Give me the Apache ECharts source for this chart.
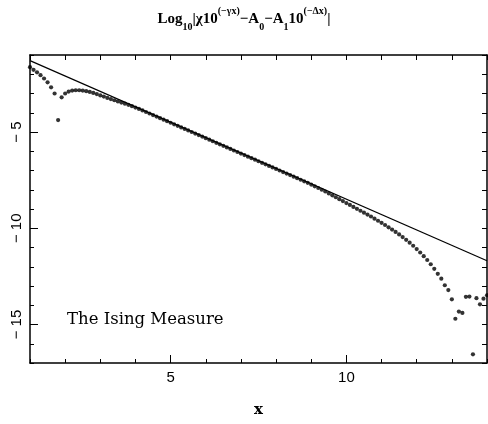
<!DOCTYPE html>
<html>
<head>
<meta charset="utf-8">
<script src="https://cdn.jsdelivr.net/npm/echarts@6/dist/echarts.min.js"></script>
<style>
html,body{margin:0;padding:0;background:#fff;}
#chart{width:488px;height:424px;}
</style>
</head>
<body>
<div id="chart"></div>
<script>
// ---- data ----
const dotX = [
  1.0,1.1,1.2,1.3,1.4,1.5,1.6,1.7,1.8,1.9,
  2.0,2.1,2.2,2.3,2.4,2.5,2.6,2.7,2.8,2.9,
  3.0,3.1,3.2,3.3,3.4,3.5,3.6,3.7,3.8,3.9,
  4.0,4.1,4.2,4.3,4.4,4.5,4.6,4.7,4.8,4.9,
  5.0,5.1,5.2,5.3,5.4,5.5,5.6,5.7,5.8,5.9,
  6.0,6.1,6.2,6.3,6.4,6.5,6.6,6.7,6.8,6.9,
  7.0,7.1,7.2,7.3,7.4,7.5,7.6,7.7,7.8,7.9,
  8.0,8.1,8.2,8.3,8.4,8.5,8.6,8.7,8.8,8.9,
  9.0,9.1,9.2,9.3,9.4,9.5,9.6,9.7,9.8,9.9,
  10.0,10.1,10.2,10.3,10.4,10.5,10.6,10.7,10.8,10.9,
  11.0,11.1,11.2,11.3,11.4,11.5,11.6,11.7,11.8,11.9,
  12.0,12.1,12.2,12.3,12.4,12.5,12.6,12.7,12.8,12.9,
  13.0,13.1,13.2,13.3,13.4,13.5,13.6,13.7,13.8,13.9,
  14.0
];
const dotY = [
  -1.63,-1.77,-1.90,-2.05,-2.22,-2.42,-2.68,-3.00,-4.38,-3.20,
  -3.00,-2.90,-2.85,-2.83,-2.83,-2.85,-2.88,-2.92,-2.97,-3.03,
  -3.10,-3.16,-3.23,-3.29,-3.35,-3.41,-3.47,-3.53,-3.59,-3.66,
  -3.73,-3.80,-3.88,-3.96,-4.04,-4.12,-4.20,-4.28,-4.36,-4.44,
  -4.52,-4.60,-4.68,-4.76,-4.84,-4.92,-5.00,-5.08,-5.16,-5.24,
  -5.32,-5.40,-5.48,-5.56,-5.64,-5.72,-5.80,-5.88,-5.96,-6.04,
  -6.12,-6.20,-6.28,-6.36,-6.44,-6.52,-6.60,-6.68,-6.76,-6.84,
  -6.92,-7.00,-7.08,-7.16,-7.24,-7.32,-7.40,-7.48,-7.56,-7.64,
  -7.73,-7.82,-7.91,-8.00,-8.09,-8.19,-8.29,-8.39,-8.49,-8.59,
  -8.69,-8.79,-8.89,-8.99,-9.09,-9.19,-9.29,-9.39,-9.50,-9.61,
  -9.72,-9.83,-9.95,-10.07,-10.19,-10.32,-10.46,-10.60,-10.75,-10.91,
  -11.08,-11.26,-11.45,-11.65,-11.87,-12.11,-12.37,-12.62,-12.96,-13.21,
  -13.69,-14.70,-14.33,-14.40,-13.56,-13.55,-16.55,-13.63,-13.95,-13.66,
  -13.48
];
const fitX = [1, 14];
const fitY = [-1.29, -11.69];
const xMajorTicks = [5, 10];
const yMajorTicks = [-15, -10, -5];
const annotation = 'The Ising Measure';

// ---- chart ----
const chart = echarts.init(document.getElementById('chart'), null, {renderer: 'canvas'});
const black = '#000';
const serif = '"DejaVu Serif", "Liberation Serif", serif';
const tserif = '"Liberation Serif", "DejaVu Serif", serif';
const sans = '"Liberation Sans", Arial, sans-serif';

const option = {
  animation: false,
  backgroundColor: '#fff',
  title: {
    text: '{m|Log}{sub|10}{m||χ10}{sup|(−γx)}{m|−A}{sub|0}{m|−A}{sub|1}{m|10}{sup|(−Δx)}{m||}',
    left: 'center',
    top: 1,
    textStyle: {
      rich: {
        m: {fontFamily: tserif, fontSize: 15, fontWeight: 'bold', color: black, lineHeight: 26, verticalAlign: 'middle'},
        sub: {fontFamily: tserif, fontSize: 10, fontWeight: 'bold', color: black, lineHeight: 10, verticalAlign: 'bottom'},
        sup: {fontFamily: tserif, fontSize: 10, fontWeight: 'bold', color: black, lineHeight: 10, verticalAlign: 'top'}
      }
    }
  },
  grid: {left: 30, right: 1, top: 55, bottom: 61, containLabel: false},
  xAxis: [
    {
      type: 'value', position: 'bottom', min: 1, max: 14, interval: 1,
      axisLine: {show: true, onZero: false, lineStyle: {color: black, width: 1.5}},
      axisTick: {show: true, inside: true, length: 4, lineStyle: {color: black, width: 1}},
      axisLabel: {customValues: xMajorTicks, color: black, fontSize: 15, fontFamily: sans, margin: 7},
      splitLine: {show: false},
      name: 'x', nameLocation: 'middle', nameGap: 40,
      nameTextStyle: {fontFamily: serif, fontSize: 15, fontWeight: 'bold', color: black}
    },
    {
      type: 'value', position: 'bottom', min: 1, max: 14,
      axisLine: {show: false, onZero: false},
      axisTick: {show: true, inside: true, length: 8, customValues: xMajorTicks, lineStyle: {color: black, width: 1}},
      axisLabel: {show: false},
      splitLine: {show: false}
    },
    {
      type: 'value', position: 'top', min: 1, max: 14, interval: 1,
      axisLine: {show: true, onZero: false, lineStyle: {color: black, width: 1.5}},
      axisTick: {show: true, inside: true, length: 5, lineStyle: {color: black, width: 1}},
      axisLabel: {show: false},
      splitLine: {show: false}
    }
  ],
  yAxis: [
    {
      type: 'value', position: 'left', min: -17, max: -1, interval: 1,
      axisLine: {show: true, onZero: false, lineStyle: {color: black, width: 1.5}},
      axisTick: {show: true, inside: true, length: 4, lineStyle: {color: black, width: 1}},
      axisLabel: {customValues: yMajorTicks, rotate: 90, color: black, fontSize: 15, fontFamily: sans, margin: 6,
        formatter: v => String(v).replace('-', '− ')},
      splitLine: {show: false}
    },
    {
      type: 'value', position: 'left', min: -17, max: -1,
      axisLine: {show: false, onZero: false},
      axisTick: {show: true, inside: true, length: 8, customValues: yMajorTicks, lineStyle: {color: black, width: 1}},
      axisLabel: {show: false},
      splitLine: {show: false}
    },
    {
      type: 'value', position: 'right', min: -17, max: -1, interval: 1,
      axisLine: {show: true, onZero: false, lineStyle: {color: black, width: 1.5}},
      axisTick: {show: true, inside: true, length: 5, lineStyle: {color: black, width: 1}},
      axisLabel: {show: false},
      splitLine: {show: false}
    }
  ],
  graphic: [
    {
      type: 'text', left: 67, top: 311, silent: true,
      style: {text: annotation, fontFamily: serif, fontSize: 16.5, fill: black}
    }
  ],
  series: [
    {
      type: 'line',
      xAxisIndex: 0, yAxisIndex: 0,
      data: fitX.map((x, i) => [x, fitY[i]]),
      showSymbol: false, symbol: 'none',
      lineStyle: {color: black, width: 1.2},
      z: 2
    },
    {
      type: 'scatter',
      xAxisIndex: 0, yAxisIndex: 0,
      data: dotX.map((x, i) => [x, dotY[i]]),
      symbol: 'circle', symbolSize: 4.2,
      itemStyle: {color: black},
      clip: false,
      z: 3
    }
  ]
};
chart.setOption(option);
</script>
</body>
</html>
